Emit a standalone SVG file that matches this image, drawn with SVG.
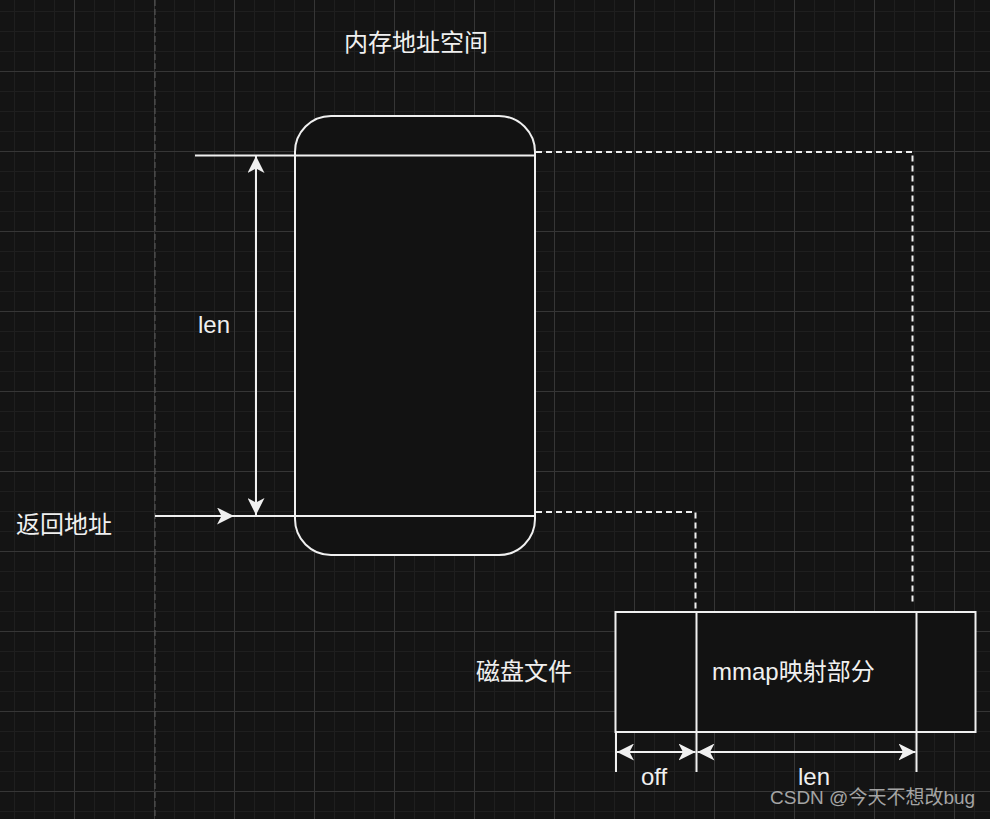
<svg xmlns="http://www.w3.org/2000/svg" width="990" height="819" viewBox="0 0 990 819">
<style>
.ln{stroke:#f0f0f0;stroke-width:2;fill:none}
.box{stroke:#f0f0f0;stroke-width:2;fill:#121212}
.dash{stroke:#f0f0f0;stroke-width:2;fill:none;stroke-dasharray:6 4}
.t{font-family:"Liberation Sans","Noto Sans CJK SC",sans-serif;font-size:24px;fill:#f0f0f0}
.wm{font-family:"Liberation Sans","Noto Sans CJK SC",sans-serif;font-size:19px;fill:#b4b4b4;opacity:0.9}
</style>
<defs>
<pattern id="grid" patternUnits="userSpaceOnUse" x="0" y="0" width="80" height="80">
<path d="M14.5,0V80M34.5,0V80M54.5,0V80M0,11.5H80M0,31.5H80M0,51.5H80" stroke="#1f1f1f" stroke-width="1"/>
<path d="M74.5,0V80M0,71.5H80" stroke="#363636" stroke-width="1"/>
</pattern>
<marker id="arr" viewBox="0 0 17 17" refX="17" refY="8.5" markerWidth="17" markerHeight="17" markerUnits="userSpaceOnUse" orient="auto-start-reverse">
<path d="M0,0 L17,8.5 L0,17 L4.5,8.5 z" fill="#f0f0f0"/>
</marker>
</defs>
<rect width="990" height="819" fill="#141414"/>
<rect width="990" height="819" fill="url(#grid)"/>
<line x1="155" y1="0" x2="155" y2="819" stroke="#5a5a5a" stroke-width="1" stroke-dasharray="6 3"/>

<g id="memory">
<rect class="box" x="295" y="116" width="240" height="439" rx="36" ry="36"/>
</g>
<g id="file">
<rect class="box" x="615.5" y="612" width="360" height="120"/>
<line class="ln" x1="696.5" y1="612" x2="696.5" y2="732"/>
<line class="ln" x1="916.5" y1="612" x2="916.5" y2="732"/>
</g>

<g id="connectors">
<line class="ln" x1="195" y1="155.5" x2="535" y2="155.5"/>
<line class="ln" x1="155" y1="516" x2="535" y2="516"/>
<line class="ln" x1="155" y1="516" x2="234" y2="516" marker-end="url(#arr)"/>
<line class="ln" x1="256" y1="156" x2="256" y2="515" marker-start="url(#arr)" marker-end="url(#arr)"/>
<path class="dash" d="M536,152 H912.5 V603"/>
<path class="dash" d="M536,512 H695.5 V611"/>
<line class="ln" x1="616" y1="732" x2="616" y2="772"/>
<line class="ln" x1="696.5" y1="732" x2="696.5" y2="772"/>
<line class="ln" x1="916.5" y1="732" x2="916.5" y2="772"/>
<line class="ln" x1="617" y1="752" x2="695.5" y2="752" marker-start="url(#arr)" marker-end="url(#arr)"/>
<line class="ln" x1="697.5" y1="752" x2="915.5" y2="752" marker-start="url(#arr)" marker-end="url(#arr)"/>
</g>

<g id="labels">
<text class="t" x="344" y="51">内存地址空间</text>
<text class="t" x="198" y="333">len</text>
<text class="t" x="16" y="533">返回地址</text>
<text class="t" x="476" y="680">磁盘文件</text>
<text class="t" x="712" y="680">mmap映射部分</text>
<text class="t" x="641" y="785">off</text>
<text class="t" x="798" y="785">len</text>
<text class="wm" x="770" y="804">CSDN @今天不想改bug</text>
</g>
</svg>
